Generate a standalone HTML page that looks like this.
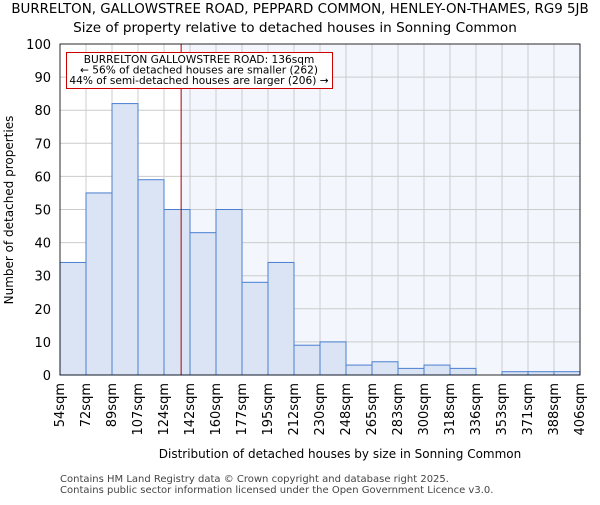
<!DOCTYPE html>
<html><head><meta charset="utf-8"><style>body{margin:0;background:#fff}svg{font-family:"DejaVu Sans","Liberation Sans",sans-serif}</style></head>
<body>
<svg id="c" width="600" height="500" xmlns="http://www.w3.org/2000/svg">
<text x="300" y="13" font-size="13.4" text-anchor="middle">BURRELTON, GALLOWSTREE ROAD, PEPPARD COMMON, HENLEY-ON-THAMES, RG9 5JB</text>
<text x="295" y="32" font-size="13.6" text-anchor="middle">Size of property relative to detached houses in Sonning Common</text>
<g id="plot"></g>
<text x="340" y="458" font-size="12" text-anchor="middle">Distribution of detached houses by size in Sonning Common</text>
<text transform="translate(13,210) rotate(-90)" font-size="12" text-anchor="middle">Number of detached properties</text>
<text x="60" y="482" font-size="10" fill="#444">Contains HM Land Registry data © Crown copyright and database right 2025.</text>
<text x="60" y="493" font-size="10" fill="#444">Contains public sector information licensed under the Open Government Licence v3.0.</text>
</svg>
<script>
const binLabels=["54sqm","72sqm","89sqm","107sqm","124sqm","142sqm","160sqm","177sqm","195sqm","212sqm","230sqm","248sqm","265sqm","283sqm","300sqm","318sqm","336sqm","353sqm","371sqm","388sqm","406sqm"];
const counts=[34,55,82,59,50,43,50,28,34,9,10,3,4,2,3,2,0,1,1,1];
const yTicks=[0,10,20,30,40,50,60,70,80,90,100];
const subjectSize=136;
const binStart=54, binEnd=406;
const NS="http://www.w3.org/2000/svg";
const L=60,R=580,T=44,B=375;
const n=counts.length, bw=(R-L)/n;
const xs=v=>L+(v-binStart)/(binEnd-binStart)*(R-L);
const xi=i=>L+i*bw;
const y=v=>B-(v/100)*(B-T);
const g=document.getElementById('plot');
function mk(t,a,p){const e=document.createElementNS(NS,t);for(const k in a)e.setAttribute(k,a[k]);(p||g).appendChild(e);return e;}
const sx=xs(subjectSize);
let e=mk('rect',{x:L,y:T,width:R-L,height:B-T,fill:'#fff'});


e=mk('rect',{x:sx,y:T,width:R-sx,height:B-T,fill:'#f3f6fd'});


yTicks.forEach(t=>{
 const l=mk('line',{x1:L,x2:R,y1:y(t),y2:y(t),stroke:'#ccc','stroke-width':1});
 
 
 const tx=mk('text',{x:L-9,y:y(t)+5,'font-size':13,'text-anchor':'end'});tx.textContent=t;
 
 
});
binLabels.forEach((s,i)=>{
 const l=mk('line',{x1:xi(i),x2:xi(i),y1:T,y2:B,stroke:'#ccc','stroke-width':1});
 
 
 const tx=mk('text',{transform:`translate(${xi(i)+4},${B+8}) rotate(-90)`,'font-size':13,'text-anchor':'end'});tx.textContent=s;
 
 
});
counts.forEach((c,i)=>{
 if(c<=0)return;
 const r=mk('rect',{x:xi(i),y:y(c),width:bw,height:B-y(c),fill:'#dae4f5',stroke:'#4a7fd0','stroke-width':1});
 
 
});
e=mk('line',{x1:sx,x2:sx,y1:T,y2:B,stroke:'#aa0000','stroke-width':1});


e=mk('rect',{x:66.5,y:52.5,width:266,height:36,fill:'#fff',stroke:'#cc0000','stroke-width':1});


["BURRELTON GALLOWSTREE ROAD: "+subjectSize+"sqm","← 56% of detached houses are smaller (262)","44% of semi-detached houses are larger (206) →"].forEach((s,k)=>{
 const t=mk('text',{x:199,y:63+k*10.5,'font-size':10.6,'text-anchor':'middle'});t.textContent=s;
 
 
});
e=mk('rect',{x:L,y:T,width:R-L,height:B-T,fill:'none',stroke:'#000','stroke-width':0.8});


</script>
</body></html>
